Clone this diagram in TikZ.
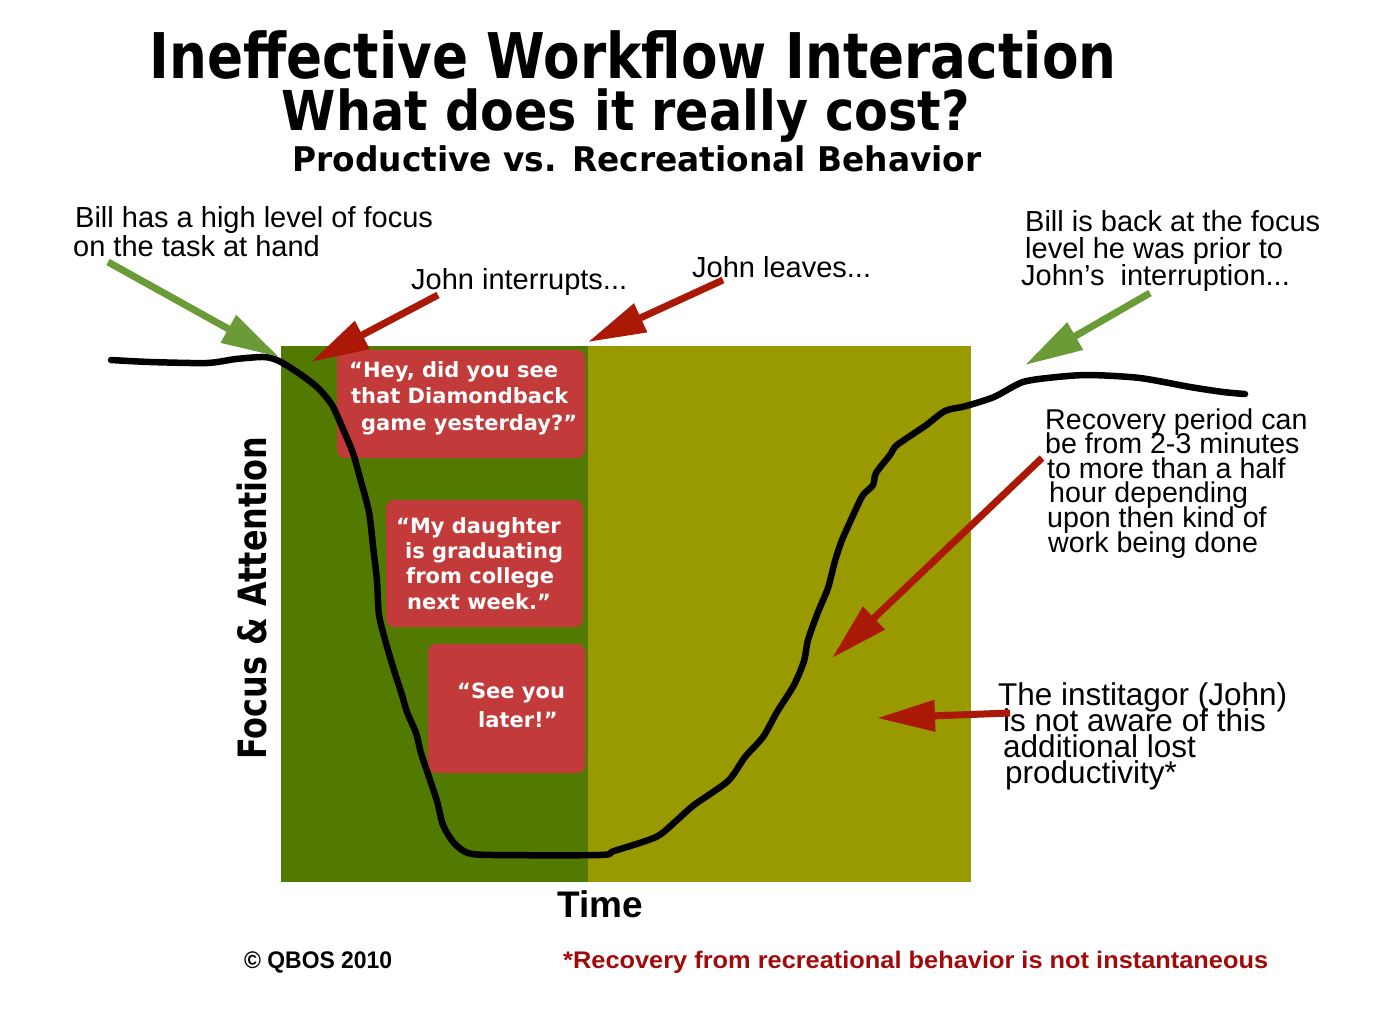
\documentclass[tikz,border=0pt]{standalone}
\usepackage{fontspec}
\usepackage{graphicx}
\setmainfont{Liberation Sans}
\newfontfamily\verdfont{DejaVu Sans}
\usetikzlibrary{arrows.meta}
\setlength{\lineskiplimit}{-100pt}

\definecolor{prodgreen}{RGB}{82,122,0}
\definecolor{recolive}{RGB}{153,153,0}
\definecolor{quotered}{RGB}{194,58,58}
\definecolor{pointred}{RGB}{170,25,5}
\definecolor{pointgreen}{RGB}{106,155,55}
\definecolor{footred}{RGB}{160,10,10}

\tikzset{
  note/.style={anchor=base west, inner sep=0pt, align=left, font=\fontsize{29}{29}\selectfont},
  quote/.style={anchor=base west, inner sep=0pt, align=left, text=white, font=\verdfont\bfseries\fontsize{21}{26.5}\selectfont},
  bubble/.style={fill=quotered, rounded corners=8pt},
  pointer/.style={line width=7pt, -{Triangle[length=58pt,width=30pt]}},
  focusline/.style={line width=6.5pt, line cap=round, line join=round},
}

\begin{document}
\begin{tikzpicture}[x=1pt, y=-1pt]
\useasboundingbox (0,0) rectangle (1392,1012);

% titles
\node[anchor=base, inner sep=0pt] (title) at (633,78)
  {\resizebox{967pt}{\height}{\verdfont\bfseries\fontsize{63}{63}\selectfont Ineffective Workflow Interaction}};
\node[anchor=base, inner sep=0pt] (subtitle) at (626,130)
  {\resizebox{688pt}{\height}{\verdfont\bfseries\fontsize{55}{55}\selectfont What does it really cost?}};
\node[anchor=base, inner sep=0pt] (subsub) at (637,171)
  {\resizebox{689pt}{\height}{\verdfont\bfseries\fontsize{34}{34}\selectfont Productive vs. Recreational Behavior}};

% phases
\fill[prodgreen] (281,346) rectangle (588,882);
\fill[recolive] (588,346) rectangle (971,882);

% what John says (base = last line)
\fill[bubble] (337,350) rectangle (585,458);
\fill[bubble] (386,500) rectangle (583,627);
\fill[bubble] (428,644) rectangle (585,773);
\node[quote] (hey) at (349,430) {“Hey, did you see\\\hspace*{2pt}that Diamondback\\\hspace*{12pt}game yesterday?”};
\node[quote, font=\verdfont\bfseries\fontsize{21}{25.3}\selectfont] (daughter) at (396,609) {“My daughter\\\hspace*{9pt}is graduating\\\hspace*{10pt}from college\\\hspace*{11pt}next week.”};
\node[quote, font=\verdfont\bfseries\fontsize{21}{29.5}\selectfont] (later) at (457,727.5) {“See you\\\hspace*{21pt}later!”};

% focus curve
\draw[focusline] plot[smooth, tension=0.45] coordinates {
  (111,360) (150,362) (207,363) (236,359) (264,357) (279,361) (300,374) (318,388)
  (332,405) (343,429) (353,453) (360,478) (369,512) (373,546) (377,581) (379,615)
  (386,643) (393,667) (402,695) (407,712) (416,733) (421,753) (428,774) (437,801)
  (443,825) (454,843) (468,853) (493,855) (600,855) (614,851) (656,837) (676,821)
  (694,805) (728,781) (745,757) (763,737) (777,712) (794,685) (804,661) (808,640)
  (818,612) (828,588) (835,561) (842,540) (856,509) (863,495) (873,485) (876,473)
  (890,455) (897,445) (925,426) (945,411) (966,406) (994,397) (1023,382) (1057,377)
  (1090,375) (1140,378) (1190,387) (1223,392) (1245,394)};

% axes labels
\node[anchor=base west, inner sep=0pt] (time) at (557,917) {\bfseries\fontsize{37}{37}\selectfont Time};
\node[anchor=base west, inner sep=0pt, rotate=90] (focus) at (266,760)
  {\resizebox{323pt}{\height}{\verdfont\bfseries\fontsize{39}{39}\selectfont Focus \& Attention}};

% notes (base = last line)
\node[note] (highfocus) at (75,256) {Bill has a high level of focus\\\hspace*{-2pt}on the task at hand};
\node[note] (interrupts) at (411,289) {John interrupts...};
\node[note] (leaves) at (692,277) {John leaves...};
\node[note, font=\fontsize{29}{27}\selectfont] (backfocus) at (1025,285)
  {Bill is back at the focus\\level he was prior to\\\hspace*{-4pt}John’s\ \ interruption...};
\node[note, font=\fontsize{28.6}{24.6}\selectfont] (recovery) at (1045,552)
  {Recovery period can\\be from 2-3 minutes\\\hspace*{2pt}to more than a half\\\hspace*{4pt}hour depending\\\hspace*{2pt}upon then kind of\\\hspace*{3pt}work being done};
\node[note, font=\fontsize{31.5}{25.7}\selectfont] (unaware) at (998,783)
  {The institagor (John)\\\hspace*{5pt}is not aware of this\\\hspace*{5pt}additional lost\\\hspace*{7pt}productivity*};

% pointers
\coordinate (highfocustail) at (108,262);
\coordinate (highfocustip) at (279,357);
\coordinate (interruptstail) at (438,295);
\coordinate (interruptstip) at (311,362);
\coordinate (leavestail) at (723,280);
\coordinate (leavestip) at (588,342);
\coordinate (backfocustail) at (1150,293);
\coordinate (backfocustip) at (1025,365);
\coordinate (recoverytail) at (1042,458);
\coordinate (recoverytip) at (832,658);
\coordinate (unawaretail) at (1010,713);
\coordinate (unawaretip) at (877,718);
\draw[pointer, pointgreen] (highfocustail) -- (highfocustip);
\draw[pointer, pointred] (interruptstail) -- (interruptstip);
\draw[pointer, pointred] (leavestail) -- (leavestip);
\draw[pointer, pointgreen] (backfocustail) -- (backfocustip);
\draw[pointer, pointred] (recoverytail) -- (recoverytip);
\draw[pointer, pointred] (unawaretail) -- (unawaretip);

% footer
\node[anchor=base west, inner sep=0pt] (copyright) at (244,968)
  {\resizebox{148pt}{\height}{\bfseries\fontsize{24}{24}\selectfont © QBOS 2010}};
\node[anchor=base west, inner sep=0pt, text=footred] (footnote) at (563,968)
  {\resizebox{705pt}{\height}{\bfseries\fontsize{24}{24}\selectfont *Recovery from recreational behavior is not instantaneous}};
\end{tikzpicture}
\end{document}
